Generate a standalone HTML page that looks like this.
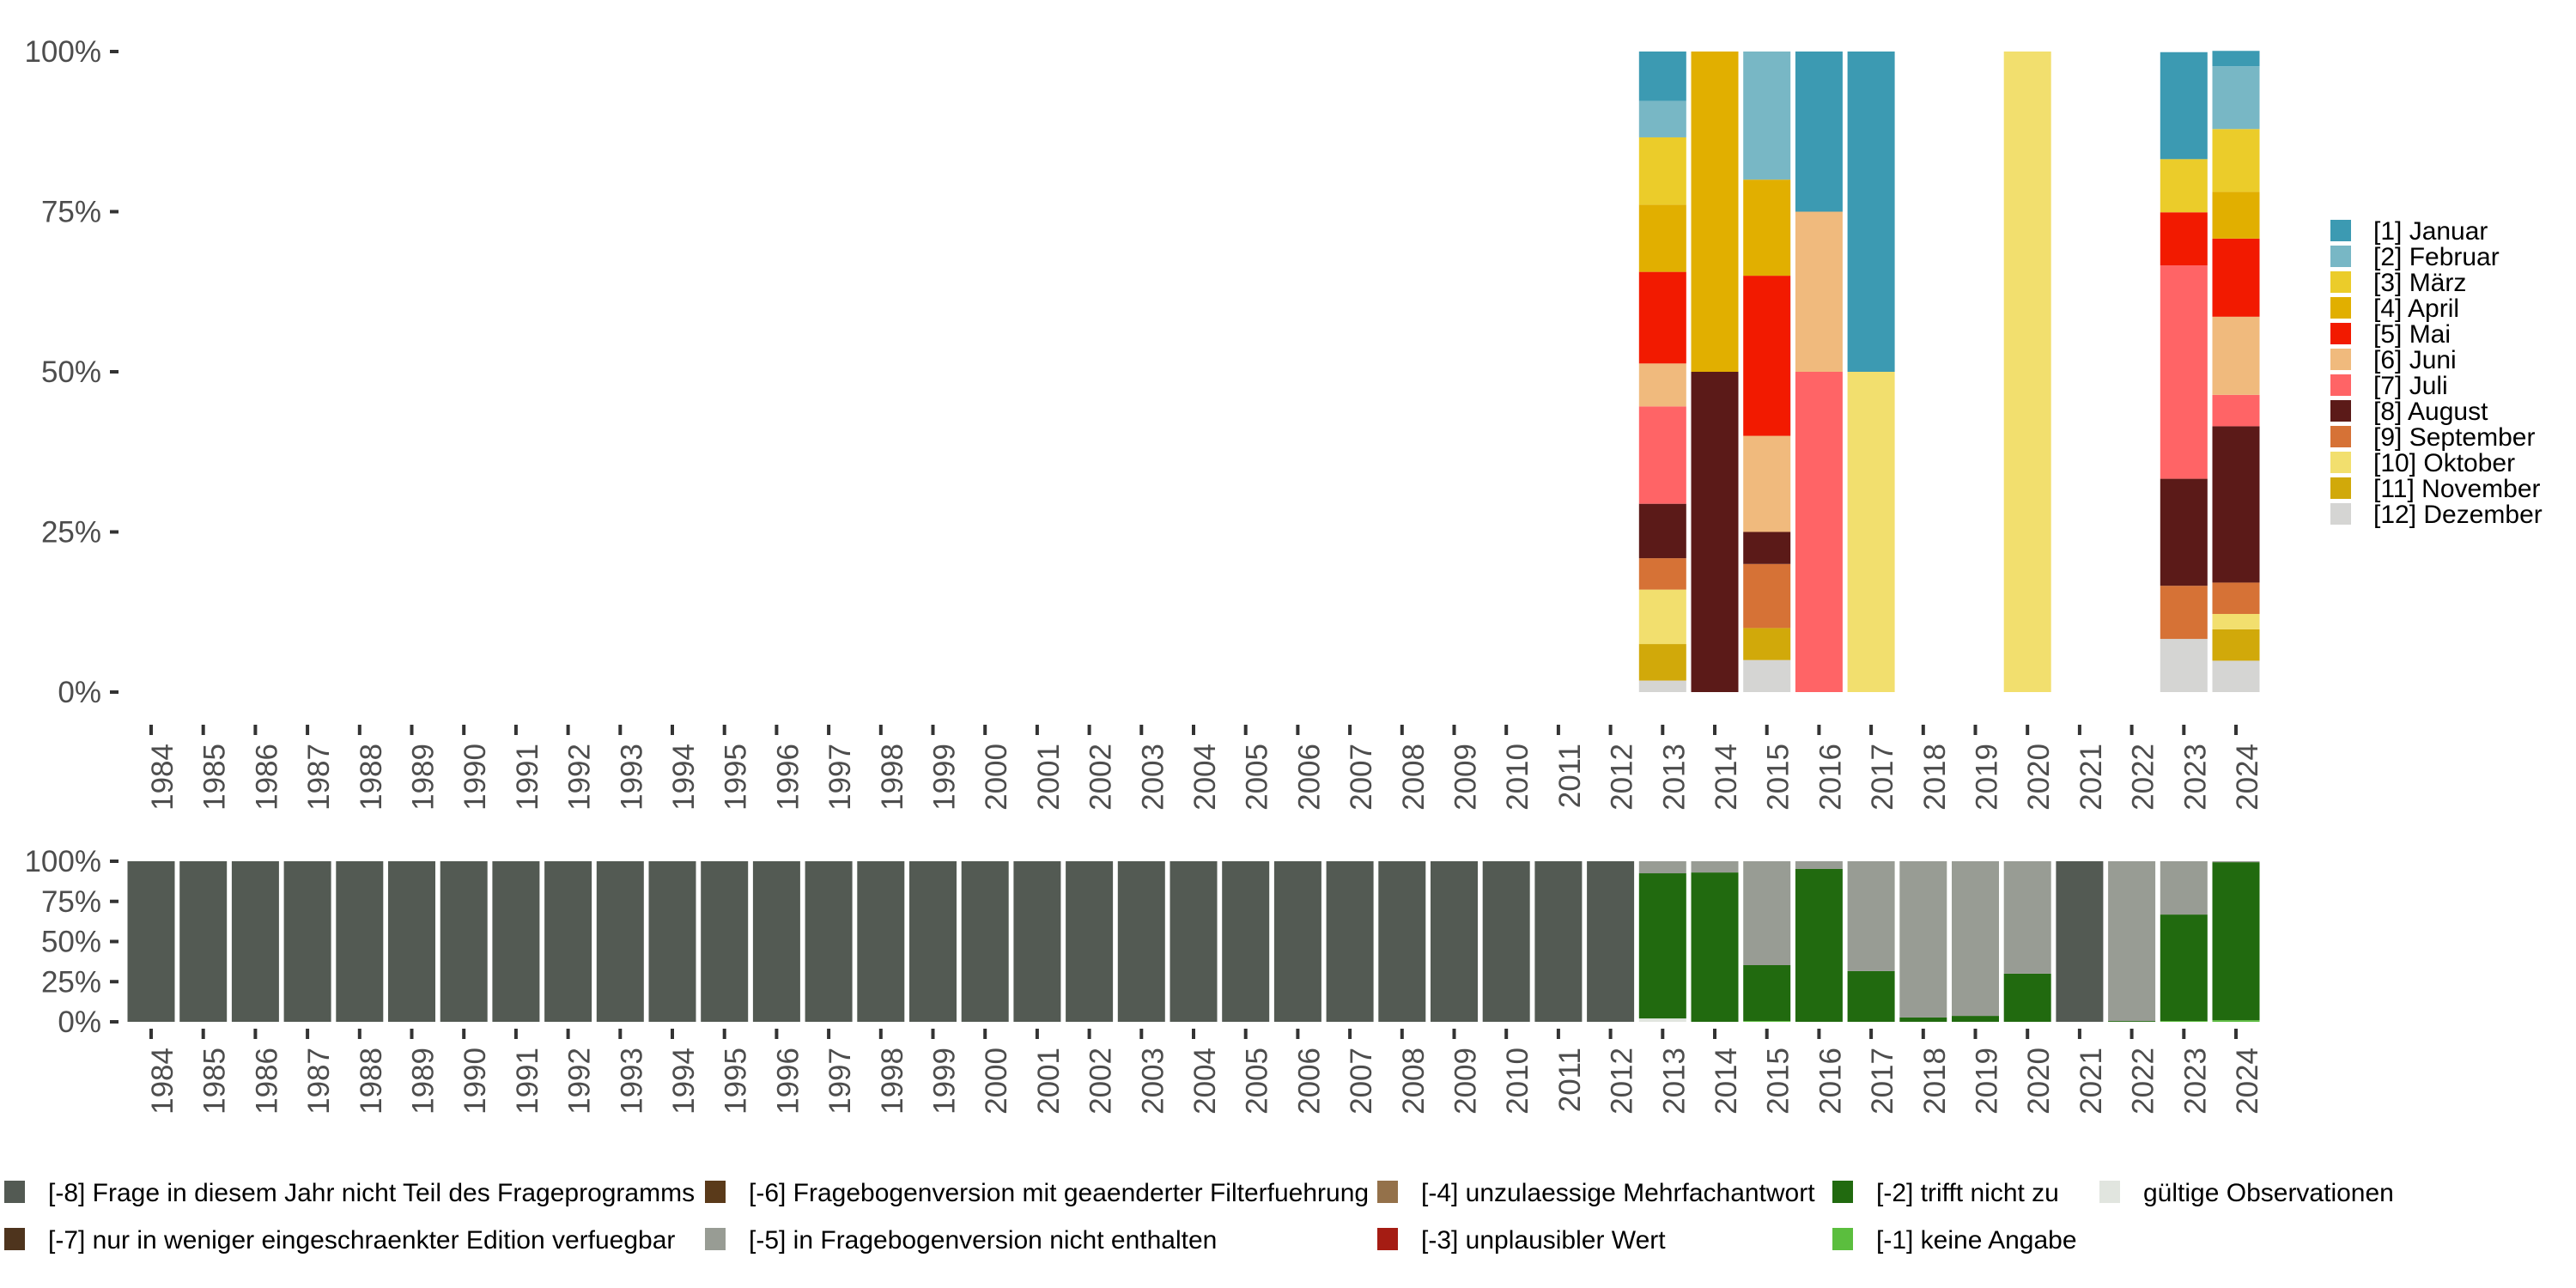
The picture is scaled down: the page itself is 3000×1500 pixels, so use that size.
<!DOCTYPE html>
<html><head><meta charset="utf-8">
<style>
html,body{margin:0;padding:0;background:#fff;}
svg{display:block;font-family:"Liberation Sans",sans-serif;}
</style></head>
<body>
<svg id="chart" width="3000" height="1500" viewBox="0 0 3000 1500" xmlns="http://www.w3.org/2000/svg">
<g id="top"></g>
<g id="bottom"></g>
<g id="legR"></g>
<g id="legB"></g>
</svg>
<script>
const years = [];
for (let y = 1984; y <= 2024; y++) years.push(y);
const yTicks = [0, 25, 50, 75, 100];
const tickLabels = ["0%", "25%", "50%", "75%", "100%"];

const months = ["[1] Januar","[2] Februar","[3] März","[4] April","[5] Mai","[6] Juni","[7] Juli","[8] August","[9] September","[10] Oktober","[11] November","[12] Dezember"];
const monthColors = ["#3C9AB2","#78B7C5","#EBCC2A","#E1AF00","#F21A00","#F0BA7D","#FF6466","#5B1A18","#D67236","#F2DF6E","#D1A90A","#D5D5D3"];
const topYears = [2013, 2014, 2015, 2016, 2017, 2020, 2023, 2024];
const topValues = [
  [7.7,5.7,10.5,10.5,14.3,6.7,15.2,8.5,4.9,8.5,5.7,1.8],
  [0,0,0,50,0,0,0,50,0,0,0,0],
  [0,20,0,15,25,15,0,5,10,0,5,5],
  [25,0,0,0,0,25,50,0,0,0,0,0],
  [50,0,0,0,0,0,0,0,0,50,0,0],
  [0,0,0,0,0,0,0,0,0,100,0,0],
  [16.7,0,8.3,0,8.3,0,33.3,16.7,8.3,0,0,8.3],
  [2.4,9.8,9.8,7.3,12.2,12.2,4.9,24.4,4.9,2.4,4.9,4.9]
];

const cats = ["[-8] Frage in diesem Jahr nicht Teil des Frageprogramms","[-7] nur in weniger eingeschraenkter Edition verfuegbar","[-6] Fragebogenversion mit geaenderter Filterfuehrung","[-5] in Fragebogenversion nicht enthalten","[-4] unzulaessige Mehrfachantwort","[-3] unplausibler Wert","[-2] trifft nicht zu","[-1] keine Angabe","gültige Observationen"];
const catColors = ["#535A53","#4E341D","#5A3A1A","#989C94","#94714A","#A51C13","#216A0F","#5BBE3E","#E1E5DF"];
const botYears = [2013,2014,2015,2016,2017,2018,2019,2020,2021,2022,2023,2024];
const botM8 = [0,0,0,0,0,0,0,0,100,0,0,0];
const botM5 = [7.5,7,64.7,4.8,68.4,97.3,96.3,70,0,99.5,33.2,0.6];
const botM2 = [90.4,93,34.8,95.2,31.6,2.7,3.7,30,0,0.5,66.3,98.4];
const botM1 = [0,0,0.5,0,0,0,0,0,0,0,0.5,1];
const botValid = [2.1,0,0,0,0,0,0,0,0,0,0,0];

const NS = "http://www.w3.org/2000/svg";
function mk(tag, attrs, parent) {
  const e = document.createElementNS(NS, tag);
  for (const k in attrs) e.setAttribute(k, attrs[k]);
  parent.appendChild(e);
  return e;
}
const x0 = 176, step = 60.7, bw = 55;
const xPos = y => x0 + (y - 1984) * step;

function panel(g, top, bot, tickY0, tickY1, labY, prefix) {
  const sy = v => bot - (v / 100) * (bot - top);
  yTicks.forEach((t, i) => {
    const y = sy(t);
    const tk = mk("rect", {x:128, y:y-2, width:10, height:4, fill:"#333"}, g);
    
    
    const tx = mk("text", {x:118, y:y+12, "text-anchor":"end", "font-size":35, fill:"#4d4d4d"}, g);
    tx.textContent = tickLabels[i];
    
    
  });
  years.forEach(yr => {
    const x = xPos(yr);
    const tk = mk("rect", {x:x-2, y:tickY0, width:4, height:tickY1-tickY0, fill:"#333"}, g);
    
    
    const tx = mk("text", {x:0, y:0, "text-anchor":"end", "font-size":35, fill:"#4d4d4d",
      transform:"translate(" + (x + 25) + "," + labY + ") rotate(-90)"}, g);
    tx.textContent = yr;
    
    
  });
  return sy;
}

const gTop = document.getElementById("top");
const syT = panel(gTop, 60, 806, 844, 856, 866, "top");
topYears.forEach((yr, i) => {
  let cum = 0;
  for (let m = 11; m >= 0; m--) {
    const v = topValues[i][m];
    if (v <= 0) continue;
    const yb = syT(cum), yt = syT(cum + v);
    const r = mk("rect", {x:xPos(yr)-bw/2, y:yt, width:bw, height:yb-yt, fill:monthColors[m]}, gTop);
    
    
    cum += v;
  }
});

const gBot = document.getElementById("bottom");
const syB = panel(gBot, 1003, 1190, 1198, 1210, 1220, "bottom");
years.forEach(yr => {
  const idx = botYears.indexOf(yr);
  let stack;
  if (idx < 0) stack = [[0,100]];
  else stack = [[8,botValid[idx]],[7,botM1[idx]],[6,botM2[idx]],[3,botM5[idx]],[0,botM8[idx]]];
  let cum = 0;
  stack.forEach(([c, v]) => {
    if (v <= 0) return;
    const yb = syB(cum), yt = syB(cum + v);
    const r = mk("rect", {x:xPos(yr)-bw/2, y:yt, width:bw, height:yb-yt, fill:catColors[c]}, gBot);
    
    
    cum += v;
  });
});

const gR = document.getElementById("legR");
months.forEach((m, i) => {
  const y = 256 + i * 30;
  const k = mk("rect", {x:2714, y:y, width:24, height:25, fill:monthColors[i]}, gR);
  
  
  const t = mk("text", {x:2764, y:y+23, "font-size":30, fill:"#000"}, gR);
  t.textContent = m;
  
  
});

const gB = document.getElementById("legB");
const colX = [5, 821, 1604, 2134, 2445];
const layout = [[0,0,0],[1,0,1],[2,1,0],[3,1,1],[4,2,0],[5,2,1],[6,3,0],[7,3,1],[8,4,0]];
layout.forEach(([c, col, row]) => {
  const x = colX[col], y = row === 0 ? 1375 : 1430;
  const k = mk("rect", {x:x, y:y, width:24, height:26, fill:catColors[c]}, gB);
  
  
  const t = mk("text", {x:x+51, y:y+24, "font-size":30, fill:"#000"}, gB);
  t.textContent = cats[c];
  
  
});
</script>
</body></html>
